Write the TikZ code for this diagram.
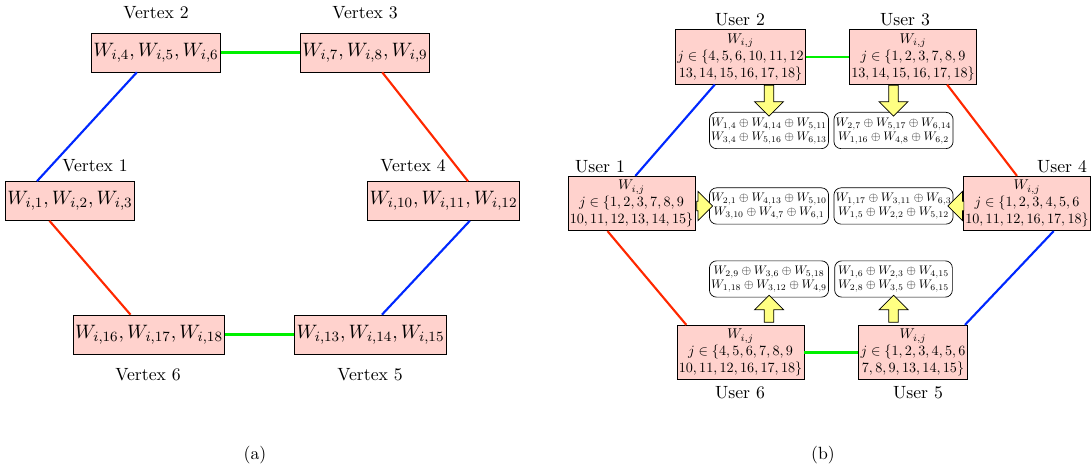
\documentclass[tikz,border=0pt]{standalone}
\usepackage{graphicx}
\usetikzlibrary{shapes.arrows,calc}

\definecolor{edgered}{RGB}{255,40,0}
\definecolor{edgegreen}{RGB}{0,240,0}
\definecolor{edgeblue}{RGB}{0,40,255}
\definecolor{cachefill}{RGB}{255,210,205}
\definecolor{arrowfill}{RGB}{255,255,130}

% contents of a user box and of a coded message
\newcommand{\cellset}[2]{\scalebox{.8}{\begin{tabular}{@{}c@{}}$W_{i,j}$\\ $j\in\{#1$\\ $#2\}$\end{tabular}}}
\newcommand{\xorset}[2]{\scalebox{.7}{\renewcommand{\arraystretch}{.95}\begin{tabular}{@{}c@{}}$#1$\\ $#2$\end{tabular}}}

\begin{document}
\begin{tikzpicture}[x=0.565pt,y=-0.565pt,
    vbox/.style={draw,fill=cachefill,inner xsep=1pt,minimum height=22pt,font=\fontsize{11}{13}\selectfont},
    ubox/.style={draw,fill=cachefill,inner sep=1pt,minimum height=28pt},
    xbox/.style={draw,rounded corners=4pt,inner sep=1pt,minimum width=66.5pt,minimum height=20.5pt},
    blk/.style={single arrow,draw,fill=arrowfill,inner sep=2.5pt,single arrow head extend=5.5pt},
    link/.style={very thick}]
  \useasboundingbox (0,0) rectangle (1091,472);

  % (a) the six vertices
  \node (v1) [vbox] at (70,201) {$W_{i,1},W_{i,2},W_{i,3}$};
  \node (v2) [vbox] at (156,52.5) {$W_{i,4},W_{i,5},W_{i,6}$};
  \node (v3) [vbox] at (365,52.5) {$W_{i,7},W_{i,8},W_{i,9}$};
  \node (v4) [vbox] at (443.5,201) {$W_{i,10},W_{i,11},W_{i,12}$};
  \node (v5) [vbox] at (370.5,334.5) {$W_{i,13},W_{i,14},W_{i,15}$};
  \node (v6) [vbox] at (149,334.5) {$W_{i,16},W_{i,17},W_{i,18}$};

  \node (lv1) at (95,166) {Vertex 1};
  \node (lv2) at (156,13) {Vertex 2};
  \node (lv3) at (365,13) {Vertex 3};
  \node (lv4) at (413,166) {Vertex 4};
  \node (lv5) at (370,375) {Vertex 5};
  \node (lv6) at (148,375) {Vertex 6};

  \draw [link,edgegreen] (v2) -- (v3);
  \draw [link,edgegreen] (v6) -- (v5);
  \draw [link,edgeblue] (v2.226) -- (v1.149);
  \draw [link,edgeblue] (v4.-37) -- (v5.60);
  \draw [link,edgered] (v3.-49) -- (v4.39);
  \draw [link,edgered] (v1.224) -- (v6.133);

  \node (capa) at (255,455) {(a)};

  % (b) the six users
  \node (u1) [ubox] at (631.5,203.5) {\cellset{1,2,3,7,8,9}{10,11,12,13,14,15}};
  \node (u2) [ubox] at (740.5,57) {\cellset{4,5,6,10,11,12}{13,14,15,16,17,18}};
  \node (u3) [ubox] at (913,57) {\cellset{1,2,3,7,8,9}{13,14,15,16,17,18}};
  \node (u4) [ubox] at (1027,203.5) {\cellset{1,2,3,4,5,6}{10,11,12,16,17,18}};
  \node (u5) [ubox] at (913,352.5) {\cellset{1,2,3,4,5,6}{7,8,9,13,14,15}};
  \node (u6) [ubox] at (740.5,352.5) {\cellset{4,5,6,7,8,9}{10,11,12,16,17,18}};

  \node (lu1) at (600,167) {User 1};
  \node (lu2) at (740,20) {User 2};
  \node (lu3) at (905,20) {User 3};
  \node (lu4) at (1062,167) {User 4};
  \node (lu5) at (918,393) {User 5};
  \node (lu6) at (740,393) {User 6};

  \draw [link,edgegreen] (u2) -- (u3);
  \draw [link,edgegreen] (u6) -- (u5);
  \draw [link,edgeblue] (u2.227) -- (u1.82);
  \draw [link,edgeblue] (u4.-46) -- (u5.28.5);
  \draw [link,edgered] (u3.-39) -- (u4.110);
  \draw [link,edgered] (u1.229) -- (u6.153);

  % coded transmissions
  \node (x1) [xbox] at (769,130.5)
    {\xorset{W_{1,4}\oplus W_{4,14}\oplus W_{5,11}}{W_{3,4}\oplus W_{5,16}\oplus W_{6,13}}};
  \node (x2) [xbox] at (893.5,130.5)
    {\xorset{W_{2,7}\oplus W_{5,17}\oplus W_{6,14}}{W_{1,16}\oplus W_{4,8}\oplus W_{6,2}}};
  \node (x3) [xbox] at (769,206)
    {\xorset{W_{2,1}\oplus W_{4,13}\oplus W_{5,10}}{W_{3,10}\oplus W_{4,7}\oplus W_{6,1}}};
  \node (x4) [xbox] at (893.5,206)
    {\xorset{W_{1,17}\oplus W_{3,11}\oplus W_{6,3}}{W_{1,5}\oplus W_{2,2}\oplus W_{5,12}}};
  \node (x5) [xbox] at (769,279)
    {\xorset{W_{2,9}\oplus W_{3,6}\oplus W_{5,18}}{W_{1,18}\oplus W_{3,12}\oplus W_{4,9}}};
  \node (x6) [xbox] at (893.5,279)
    {\xorset{W_{1,6}\oplus W_{2,3}\oplus W_{4,15}}{W_{2,8}\oplus W_{3,5}\oplus W_{6,15}}};

  \node (a1) [blk,minimum height=9pt] at ($(x3.west)!.5!(x3.west -| u1.east)$) {};
  \node (a2) [blk,shape border rotate=270,minimum height=17.5pt]
    at ($(x1.north)!.5!(x1.north |- u2.south)$) {};
  \node (a3) [blk,shape border rotate=270,minimum height=17.5pt]
    at ($(x2.north)!.5!(x2.north |- u3.south)$) {};
  \node (a4) [blk,shape border rotate=180,minimum height=9pt]
    at ($(x4.east)!.5!(x4.east -| u4.west)$) {};
  \node (a5) [blk,shape border rotate=90,minimum height=15.3pt]
    at ($(x6.south)!.5!(x6.south |- u5.north)$) {};
  \node (a6) [blk,shape border rotate=90,minimum height=15.3pt]
    at ($(x5.south)!.5!(x5.south |- u6.north)$) {};

  \node (capb) at (823,455) {(b)};
\end{tikzpicture}
\end{document}
